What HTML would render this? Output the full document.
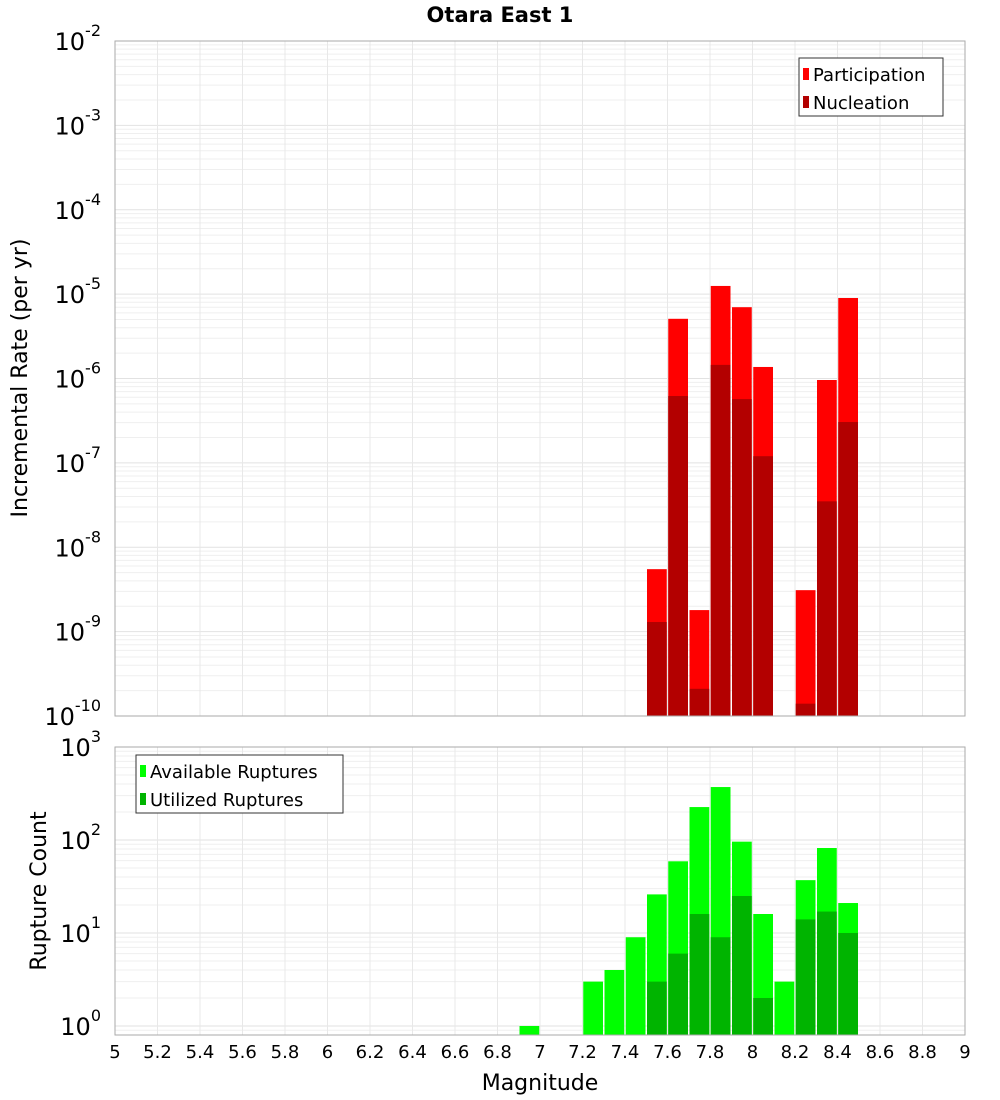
<!DOCTYPE html>
<html><head><meta charset="utf-8"><style>
body{margin:0;background:#fff}
svg{display:block;font-family:"DejaVu Sans","Liberation Sans",sans-serif}
</style></head><body>
<svg id="c" width="1000" height="1100" xmlns="http://www.w3.org/2000/svg">
<text x="500" y="22" text-anchor="middle" font-size="21" font-weight="bold">Otara East 1</text>
<g id="topPanel"></g><g id="botPanel"></g>
</svg>
<script>
const bins=[6.95,7.25,7.35,7.45,7.55,7.65,7.75,7.85,7.95,8.05,8.15,8.25,8.35,8.45];
const participation=[0,0,0,0,5.5e-9,5.1e-6,1.8e-9,1.25e-5,7.0e-6,1.37e-6,0,3.1e-9,9.6e-7,9.0e-6];
const nucleation=[0,0,0,0,1.3e-9,6.2e-7,2.1e-10,1.45e-6,5.7e-7,1.2e-7,0,1.4e-10,3.5e-8,3.05e-7];
const available=[1,3,4,9,26,59,226,371,96,16,3,37,82,21];
const utilized=[0,0,0,0,3,6,16,9,25,2,0,14,17,10];
const xTicks=[5,5.2,5.4,5.6,5.8,6,6.2,6.4,6.6,6.8,7,7.2,7.4,7.6,7.8,8,8.2,8.4,8.6,8.8,9];
const topExp=[-10,-9,-8,-7,-6,-5,-4,-3,-2];
const botExp=[0,1,2,3];
const NS="http://www.w3.org/2000/svg";
const X0=115,X1=965;
const xs=v=>X0+(v-5)/4*(X1-X0);
function el(p,t,a){const e=document.createElementNS(NS,t);for(const k in a)e.setAttribute(k,a[k]);p.appendChild(e);return e;}
function panel(g,y0,y1,lmin,lmax,exps,s1,s2,c1,c2,n1,n2,legX,legY,legW,legLabels){
  const ys=v=>y1-(Math.log10(v)-lmin)/(lmax-lmin)*(y1-y0);
  for(let d=Math.floor(lmin);d<lmax;d++)for(let m=1;m<10;m++){const v=m*Math.pow(10,d);const y=ys(v);if(y<y0||y>y1)continue;
    const l=el(g,'line',{x1:X0,x2:X1,y1:y,y2:y,stroke:m==1?'#e2e2e2':'#efefef','stroke-width':1});
    
    }
  xTicks.forEach(t=>{const l=el(g,'line',{x1:xs(t),x2:xs(t),y1:y0,y2:y1,stroke:'#e8e8e8'});
    
    });
  const bw=xs(0.1)-xs(0)-1.5;
  bins.forEach((b,i)=>{
    if(s1[i]>0){const y=ys(s1[i]);const r=el(g,'rect',{x:xs(b-0.05)+0.75,y:y,width:bw,height:y1-y,fill:c1});
      
      }
    if(s2[i]>0){const y=ys(s2[i]);const r=el(g,'rect',{x:xs(b-0.05)+0.75,y:y,width:bw,height:y1-y,fill:c2});
      
      }
  });
  const f=el(g,'rect',{x:X0,y:y0,width:X1-X0,height:y1-y0,fill:'none',stroke:'#aaa'});
  
  
  exps.forEach(e=>{const y=ys(Math.pow(10,e));const t=el(g,'text',{x:101,y:y+9,'text-anchor':'end','font-size':24});
    
    
    t.textContent='10';const s=el(t,'tspan',{dy:-14,'font-size':16});s.textContent=String(e);
  });
  const lg=el(g,'g',{});
  
  
  el(lg,'rect',{x:legX,y:legY,width:legW,height:58,fill:'#fff',stroke:'#333'});
  [c1,c2].forEach((c,i)=>{el(lg,'rect',{x:legX+4,y:legY+10+i*28,width:6,height:12,fill:c});
    const t=el(lg,'text',{x:legX+14,y:legY+23+i*28,'font-size':18});t.textContent=legLabels[i];
    
    });
}
const topG=document.getElementById('topPanel'),botG=document.getElementById('botPanel');
panel(topG,41,716,-10,-2,topExp,participation,nucleation,'#ff0000','#b30000','participation','nucleation',799,58,144,['Participation','Nucleation']);
panel(botG,747,1035,-0.097,3,botExp,available,utilized,'#00ff00','#00b400','available-ruptures','utilized-ruptures',136,755,207,['Available Ruptures','Utilized Ruptures']);
xTicks.forEach(t=>{const e=el(botG,'text',{x:xs(t),y:1058,'text-anchor':'middle','font-size':18});e.textContent=String(t);
  
  });
const xt=el(botG,'text',{x:540,y:1090,'text-anchor':'middle','font-size':22});xt.textContent='Magnitude';


const y1t=el(topG,'text',{transform:'translate(27,378) rotate(-90)','text-anchor':'middle','font-size':22});y1t.textContent='Incremental Rate (per yr)';


const y2t=el(botG,'text',{transform:'translate(46,891) rotate(-90)','text-anchor':'middle','font-size':22});y2t.textContent='Rupture Count';


</script>
</body></html>
